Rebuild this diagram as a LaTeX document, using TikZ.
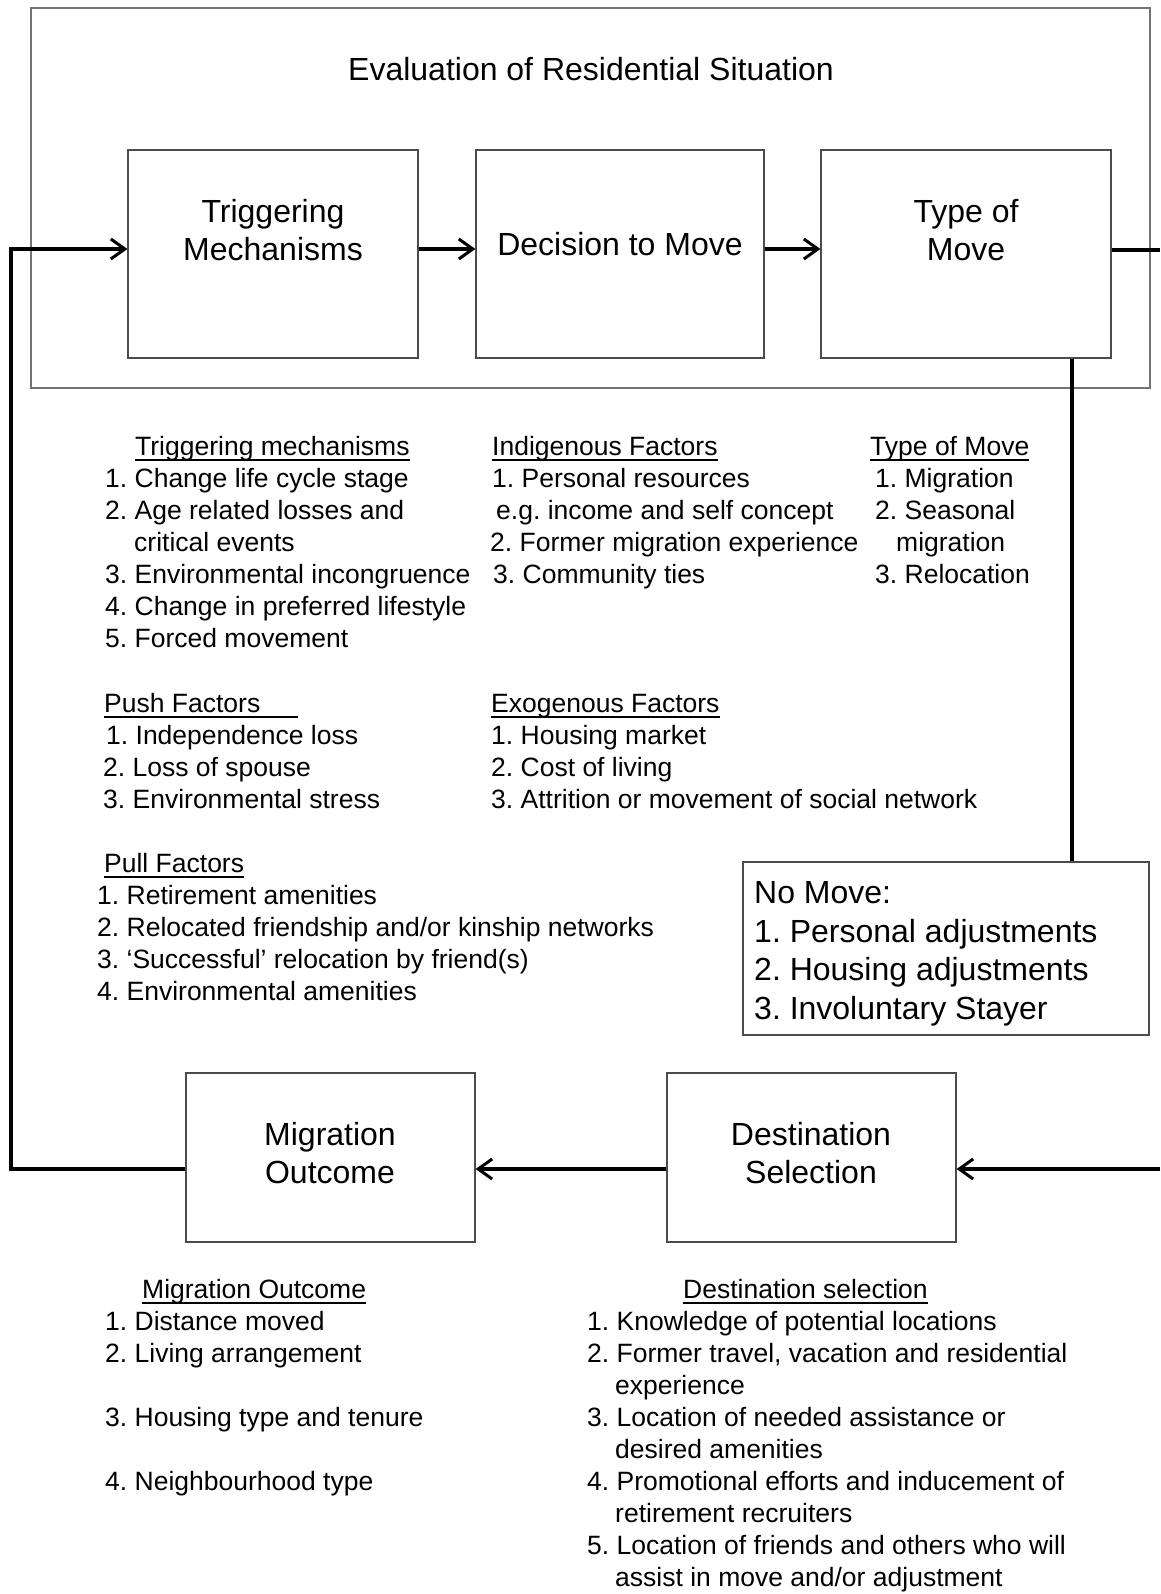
\documentclass[tikz,border=0pt]{standalone}
\usepackage{fontspec}
\setmainfont{Liberation Sans}
\usetikzlibrary{arrows.meta,calc}
\frenchspacing
\begin{document}
\frenchspacing
\begin{tikzpicture}[x=1pt,y=-1pt,
 box/.style={draw=black!70,line width=1.2pt,inner sep=0pt},
 outerbox/.style={draw=black!55,line width=1.6pt,inner sep=0pt},
 conn/.style={line width=3.3pt,black},
 arr/.style={conn,-{Straight Barb[length=14pt,width=20pt,line width=3pt]}},
 bt/.style={anchor=base west,inner sep=0pt,font=\fontsize{26.5}{32}\selectfont},
 big/.style={anchor=base,inner sep=0pt,font=\fontsize{32}{38}\selectfont},
 bigl/.style={anchor=base west,inner sep=0pt,font=\fontsize{32}{38}\selectfont},
 ul/.style={line width=1.8pt,black}]
\useasboundingbox (0,0) rectangle (1160,1594);
\fill[white] (0,0) rectangle (1160,1594);

% boxes
\node[outerbox,minimum width=1119pt,minimum height=380pt] (outer) at (590.5,198) {};
\node[box,minimum width=290pt,minimum height=208pt] (trig) at (273,254) {};
\node[box,minimum width=288pt,minimum height=208pt] (dec) at (620,254) {};
\node[box,minimum width=290pt,minimum height=208pt] (type) at (966,254) {};
\node[box,minimum width=406pt,minimum height=173pt] (nomove) at (946,948.5) {};
\node[box,minimum width=289pt,minimum height=169pt] (mig) at (330.5,1157.5) {};
\node[box,minimum width=289pt,minimum height=169pt] (dest) at (811.5,1157.5) {};

% box texts
\node[big] (title) at (591,81) {Evaluation of Residential Situation};
\node[big] (trigA) at (273,223) {Triggering};
\node[big] (trigB) at (273,261) {Mechanisms};
\node[big] (decA) at (620,256) {Decision to Move};
\node[big] (typeA) at (966,223) {Type of};
\node[big] (typeB) at (966,261) {Move};
\node[big] (migA) at (330,1145) {Migration};
\node[big] (migB) at (330,1183) {Outcome};
\node[big] (destA) at (811,1145) {Destination};
\node[big] (destB) at (811,1183) {Selection};

% connectors
\coordinate (Ya) at (0,249);
\coordinate (L1) at (11,1169);
\coordinate (L2) at (11,249);
\coordinate (R1) at (1160,250);
\coordinate (R2) at (1160,1169);
\coordinate (V) at (1072,0);
\draw[arr] (trig.east |- Ya) -- (dec.west |- Ya);
\draw[arr] (dec.east |- Ya) -- (type.west |- Ya);
\draw[conn] (type.east |- R1) -- (R1);
\draw[conn] (type.south -| V) -- (nomove.north -| V);
\draw[arr] (R2) -- (dest.east |- R2);
\draw[arr] (dest.west |- R2) -- (mig.east |- R2);
\draw[arr] (mig.west |- L1) -- (L1) -- (L2) -- (trig.west |- L2);

% Triggering mechanisms
\node[bt] (h1) at (135,455) {Triggering mechanisms};
\node[bt] (a1) at (105,487) {1. Change life cycle stage};
\node[bt] (a2) at (105,519) {2. Age related losses and};
\node[bt] (a3) at (134,551) {critical events};
\node[bt] (a4) at (105,583) {3. Environmental incongruence};
\node[bt] (a5) at (105,615) {4. Change in preferred lifestyle};
\node[bt] (a6) at (105,647) {5. Forced movement};

% Indigenous
\node[bt] (h2) at (492,455) {Indigenous Factors};
\node[bt] (b1) at (492,487) {1. Personal resources};
\node[bt] (b2) at (496,519) {e.g. income and self concept};
\node[bt] (b3) at (490,551) {2. Former migration experience};
\node[bt] (b4) at (493,583) {3. Community ties};

% Type of move
\node[bt] (h3) at (870,455) {Type of Move};
\node[bt] (c1) at (875,487) {1. Migration};
\node[bt] (c2) at (875,519) {2. Seasonal};
\node[bt] (c3) at (896,551) {migration};
\node[bt] (c4) at (875,583) {3. Relocation};

% Push
\node[bt] (h4) at (104,712) {Push Factors};
\node[bt] (d1) at (106,744) {1. Independence loss};
\node[bt] (d2) at (103,776) {2. Loss of spouse};
\node[bt] (d3) at (103,808) {3. Environmental stress};

% Exogenous
\node[bt] (h5) at (491,712) {Exogenous Factors};
\node[bt] (e1) at (491,744) {1. Housing market};
\node[bt] (e2) at (491,776) {2. Cost of living};
\node[bt] (e3) at (491,808) {3. Attrition or movement of social network};

% Pull
\node[bt] (h6) at (104,872) {Pull Factors};
\node[bt] (f1) at (97,904) {1. Retirement amenities};
\node[bt] (f2) at (97,936) {2. Relocated friendship and/or kinship networks};
\node[bt] (f3) at (97,968) {3. ‘Successful’ relocation by friend(s)};
\node[bt] (f4) at (97,1000) {4. Environmental amenities};

% No move
\node[bigl] (n0) at (754,903) {No Move:};
\node[bigl] (n1) at (754,942) {1. Personal adjustments};
\node[bigl] (n2) at (754,980) {2. Housing adjustments};
\node[bigl] (n3) at (754,1019) {3. Involuntary Stayer};

% Migration outcome
\node[bt] (h7) at (142,1298) {Migration Outcome};
\node[bt] (g1) at (105,1330) {1. Distance moved};
\node[bt] (g2) at (105,1362) {2. Living arrangement};
\node[bt] (g3) at (105,1426) {3. Housing type and tenure};
\node[bt] (g4) at (105,1490) {4. Neighbourhood type};

% Destination selection
\node[bt] (h8) at (683,1298) {Destination selection};
\node[bt] (k1) at (587,1330) {1. Knowledge of potential locations};
\node[bt] (k2) at (587,1362) {2. Former travel, vacation and residential};
\node[bt] (k3) at (615,1394) {experience};
\node[bt] (k4) at (587,1426) {3. Location of needed assistance or};
\node[bt] (k5) at (615,1458) {desired amenities};
\node[bt] (k6) at (587,1490) {4. Promotional efforts and inducement of};
\node[bt] (k7) at (615,1522) {retirement recruiters};
\node[bt] (k8) at (587,1554) {5. Location of friends and others who will};
\node[bt] (k9) at (615,1586) {assist in move and/or adjustment};

% underlines
\foreach \h in {h1,h2,h3,h5,h6,h7,h8}{
  \draw[ul] ($(\h.base west)+(0,5)$) -- ($(\h.base east)+(0,5)$);
}
\coordinate (PU) at (298,0);
\draw[ul] ($(h4.base west)+(0,5)$) -- ($(h4.base west -| PU)+(0,5)$);
\end{tikzpicture}
\end{document}
